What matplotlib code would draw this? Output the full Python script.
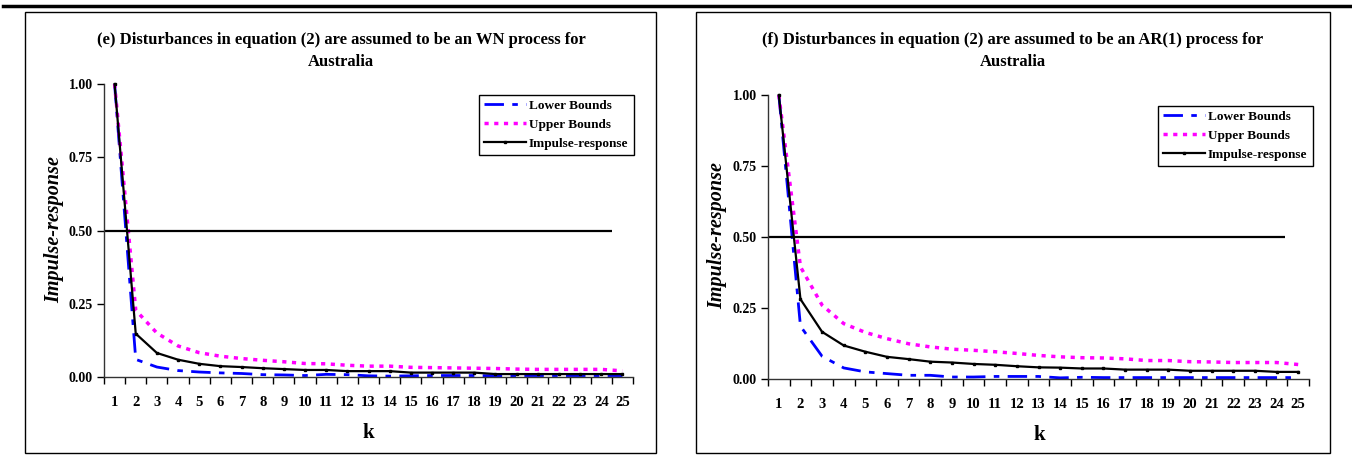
import numpy as np
import matplotlib
matplotlib.use("Agg")
from matplotlib import pyplot as plt
from matplotlib.patches import Rectangle
from matplotlib.lines import Line2D

# lags
k = np.arange(1, 26)

# panel (e): WN disturbances
e_lower = [1.00, 0.060, 0.034, 0.022, 0.017, 0.014, 0.012, 0.008, 0.007, 0.005,
           0.009, 0.008, 0.004, 0.003, 0.004, 0.005, 0.005, 0.005, 0.004, 0.005,
           0.005, 0.005, 0.005, 0.005, 0.005]
e_upper = [1.00, 0.228, 0.150, 0.106, 0.083, 0.071, 0.063, 0.057, 0.052, 0.046,
           0.045, 0.040, 0.037, 0.037, 0.033, 0.032, 0.031, 0.030, 0.029, 0.027,
           0.026, 0.026, 0.026, 0.026, 0.021]
e_irf = [1.00, 0.148, 0.082, 0.059, 0.045, 0.037, 0.034, 0.030, 0.027, 0.024,
         0.024, 0.020, 0.020, 0.020, 0.015, 0.015, 0.015, 0.015, 0.010, 0.010,
         0.010, 0.010, 0.010, 0.010, 0.010]

# panel (f): AR(1) disturbances
f_lower = [1.00, 0.186, 0.080, 0.039, 0.025, 0.019, 0.013, 0.013, 0.007, 0.007,
           0.009, 0.009, 0.009, 0.004, 0.006, 0.005, 0.005, 0.005, 0.005, 0.005,
           0.005, 0.005, 0.005, 0.005, 0.005]
f_upper = [1.00, 0.395, 0.260, 0.195, 0.164, 0.142, 0.124, 0.113, 0.105, 0.101,
           0.096, 0.090, 0.083, 0.078, 0.075, 0.074, 0.071, 0.065, 0.065, 0.061,
           0.060, 0.058, 0.058, 0.058, 0.051]
f_irf = [1.00, 0.281, 0.166, 0.118, 0.096, 0.078, 0.070, 0.061, 0.058, 0.053,
         0.050, 0.045, 0.041, 0.040, 0.037, 0.037, 0.033, 0.033, 0.033, 0.029,
         0.029, 0.029, 0.029, 0.025, 0.025]

titles = ["(e) Disturbances in equation (2) are assumed to be an WN process for\nAustralia",
          "(f) Disturbances in equation (2) are assumed to be an AR(1) process for\nAustralia"]
yticks = [0.0, 0.25, 0.5, 0.75, 1.0]
names = ["Lower Bounds", "Upper Bounds", "Impulse-response"]

W, H = 1352, 457
fig = plt.figure(figsize=(W / 100, H / 100), dpi=100)
serif = "Liberation Serif"

def fx(px):
    return px / W

def fy(py):
    return 1 - py / H

# top rule
fig.add_artist(Line2D([fx(3), 1], [fy(6), fy(6)], color="black", lw=2.5))

# frame box, axes box, title centre, ylabel / k positions, legend corner (pixels)
panels = [
    dict(box=(25, 12, 656, 453), ax=(104, 84, 633, 377), tx=341, ylab=(54, 230),
         klab=(368, 433), leg=(472, 88), data=(e_lower, e_upper, e_irf), hl=24.5),
    dict(box=(696, 12, 1330, 453), ax=(768, 95, 1309, 379), tx=1013, ylab=(717, 236),
         klab=(1039, 435), leg=(1151, 99), data=(f_lower, f_upper, f_irf), hl=24.4),
]

for i, p in enumerate(panels):
    x0, y0, x1, y1 = p["box"]
    fig.add_artist(Rectangle((fx(x0), fy(y1)), fx(x1) - fx(x0), fy(y0) - fy(y1),
                             transform=fig.transFigure, fill=False, ec="black", lw=1))
    a0, b0, a1, b1 = p["ax"]
    ax = fig.add_axes([fx(a0), fy(b1), fx(a1) - fx(a0), fy(b0) - fy(b1)])
    lo, up, irf = p["data"]
    l1, = ax.plot(k, lo, color="#0000FF", lw=2, ls=(0, (7, 3, 2, 3)), clip_on=False)
    l2, = ax.plot(k, up, color="#FF00FF", lw=2.5, ls=(0, (1.2, 1.6)), clip_on=False)
    l3, = ax.plot(k, irf, color="black", lw=1.6, marker="s", ms=2, clip_on=False)
    ax.hlines(0.5, 0.5, p["hl"], color="black", lw=1.6)
    ax.set_xlim(0.5, 25.5)
    ax.set_ylim(0, 1)
    ax.set_yticks(yticks)
    ax.set_yticklabels(["%.2f" % v for v in yticks], fontfamily=serif,
                       fontweight="bold", fontsize=10)
    ax.set_xticks(k)
    ax.set_xticklabels([str(v) for v in k], fontfamily=serif, fontweight="bold",
                       fontsize=10.5)
    ax.set_xticks(np.arange(0.5, 26, 1), minor=True)
    ax.tick_params(axis="x", which="major", length=0, pad=14)
    ax.tick_params(axis="x", which="minor", length=5, width=1, direction="out")
    ax.tick_params(axis="y", length=5, width=1, direction="out", pad=3)
    for s in ["top", "right"]:
        ax.spines[s].set_visible(False)
    for s in ["left", "bottom"]:
        ax.spines[s].set_color("#333333")
        ax.spines[s].set_linewidth(1)

    fig.text(fx(p["tx"]), fy(51), titles[i], ha="center", va="center",
             fontfamily=serif, fontweight="bold", fontsize=12, linespacing=1.5)
    fig.text(fx(p["ylab"][0]), fy(p["ylab"][1]), "Impulse-response", rotation=90,
             ha="center", va="center", fontfamily=serif, fontweight="bold",
             fontstyle="italic", fontsize=14.5)
    fig.text(fx(p["klab"][0]), fy(p["klab"][1]), "k", ha="center", va="center",
             fontfamily=serif, fontweight="bold", fontsize=15)

    leg = fig.legend([l1, l2, l3], names, loc="upper left",
                     bbox_to_anchor=(fx(p["leg"][0]), fy(p["leg"][1])),
                     bbox_transform=fig.transFigure, frameon=True, fancybox=False,
                     edgecolor="black", framealpha=1, handlelength=3.2,
                     handletextpad=0.2, borderpad=0.4, labelspacing=0.5,
                     prop=dict(family=serif, weight="bold", size=9.5))
    leg.get_frame().set_linewidth(1)

fig.savefig("out.png", dpi=100)
